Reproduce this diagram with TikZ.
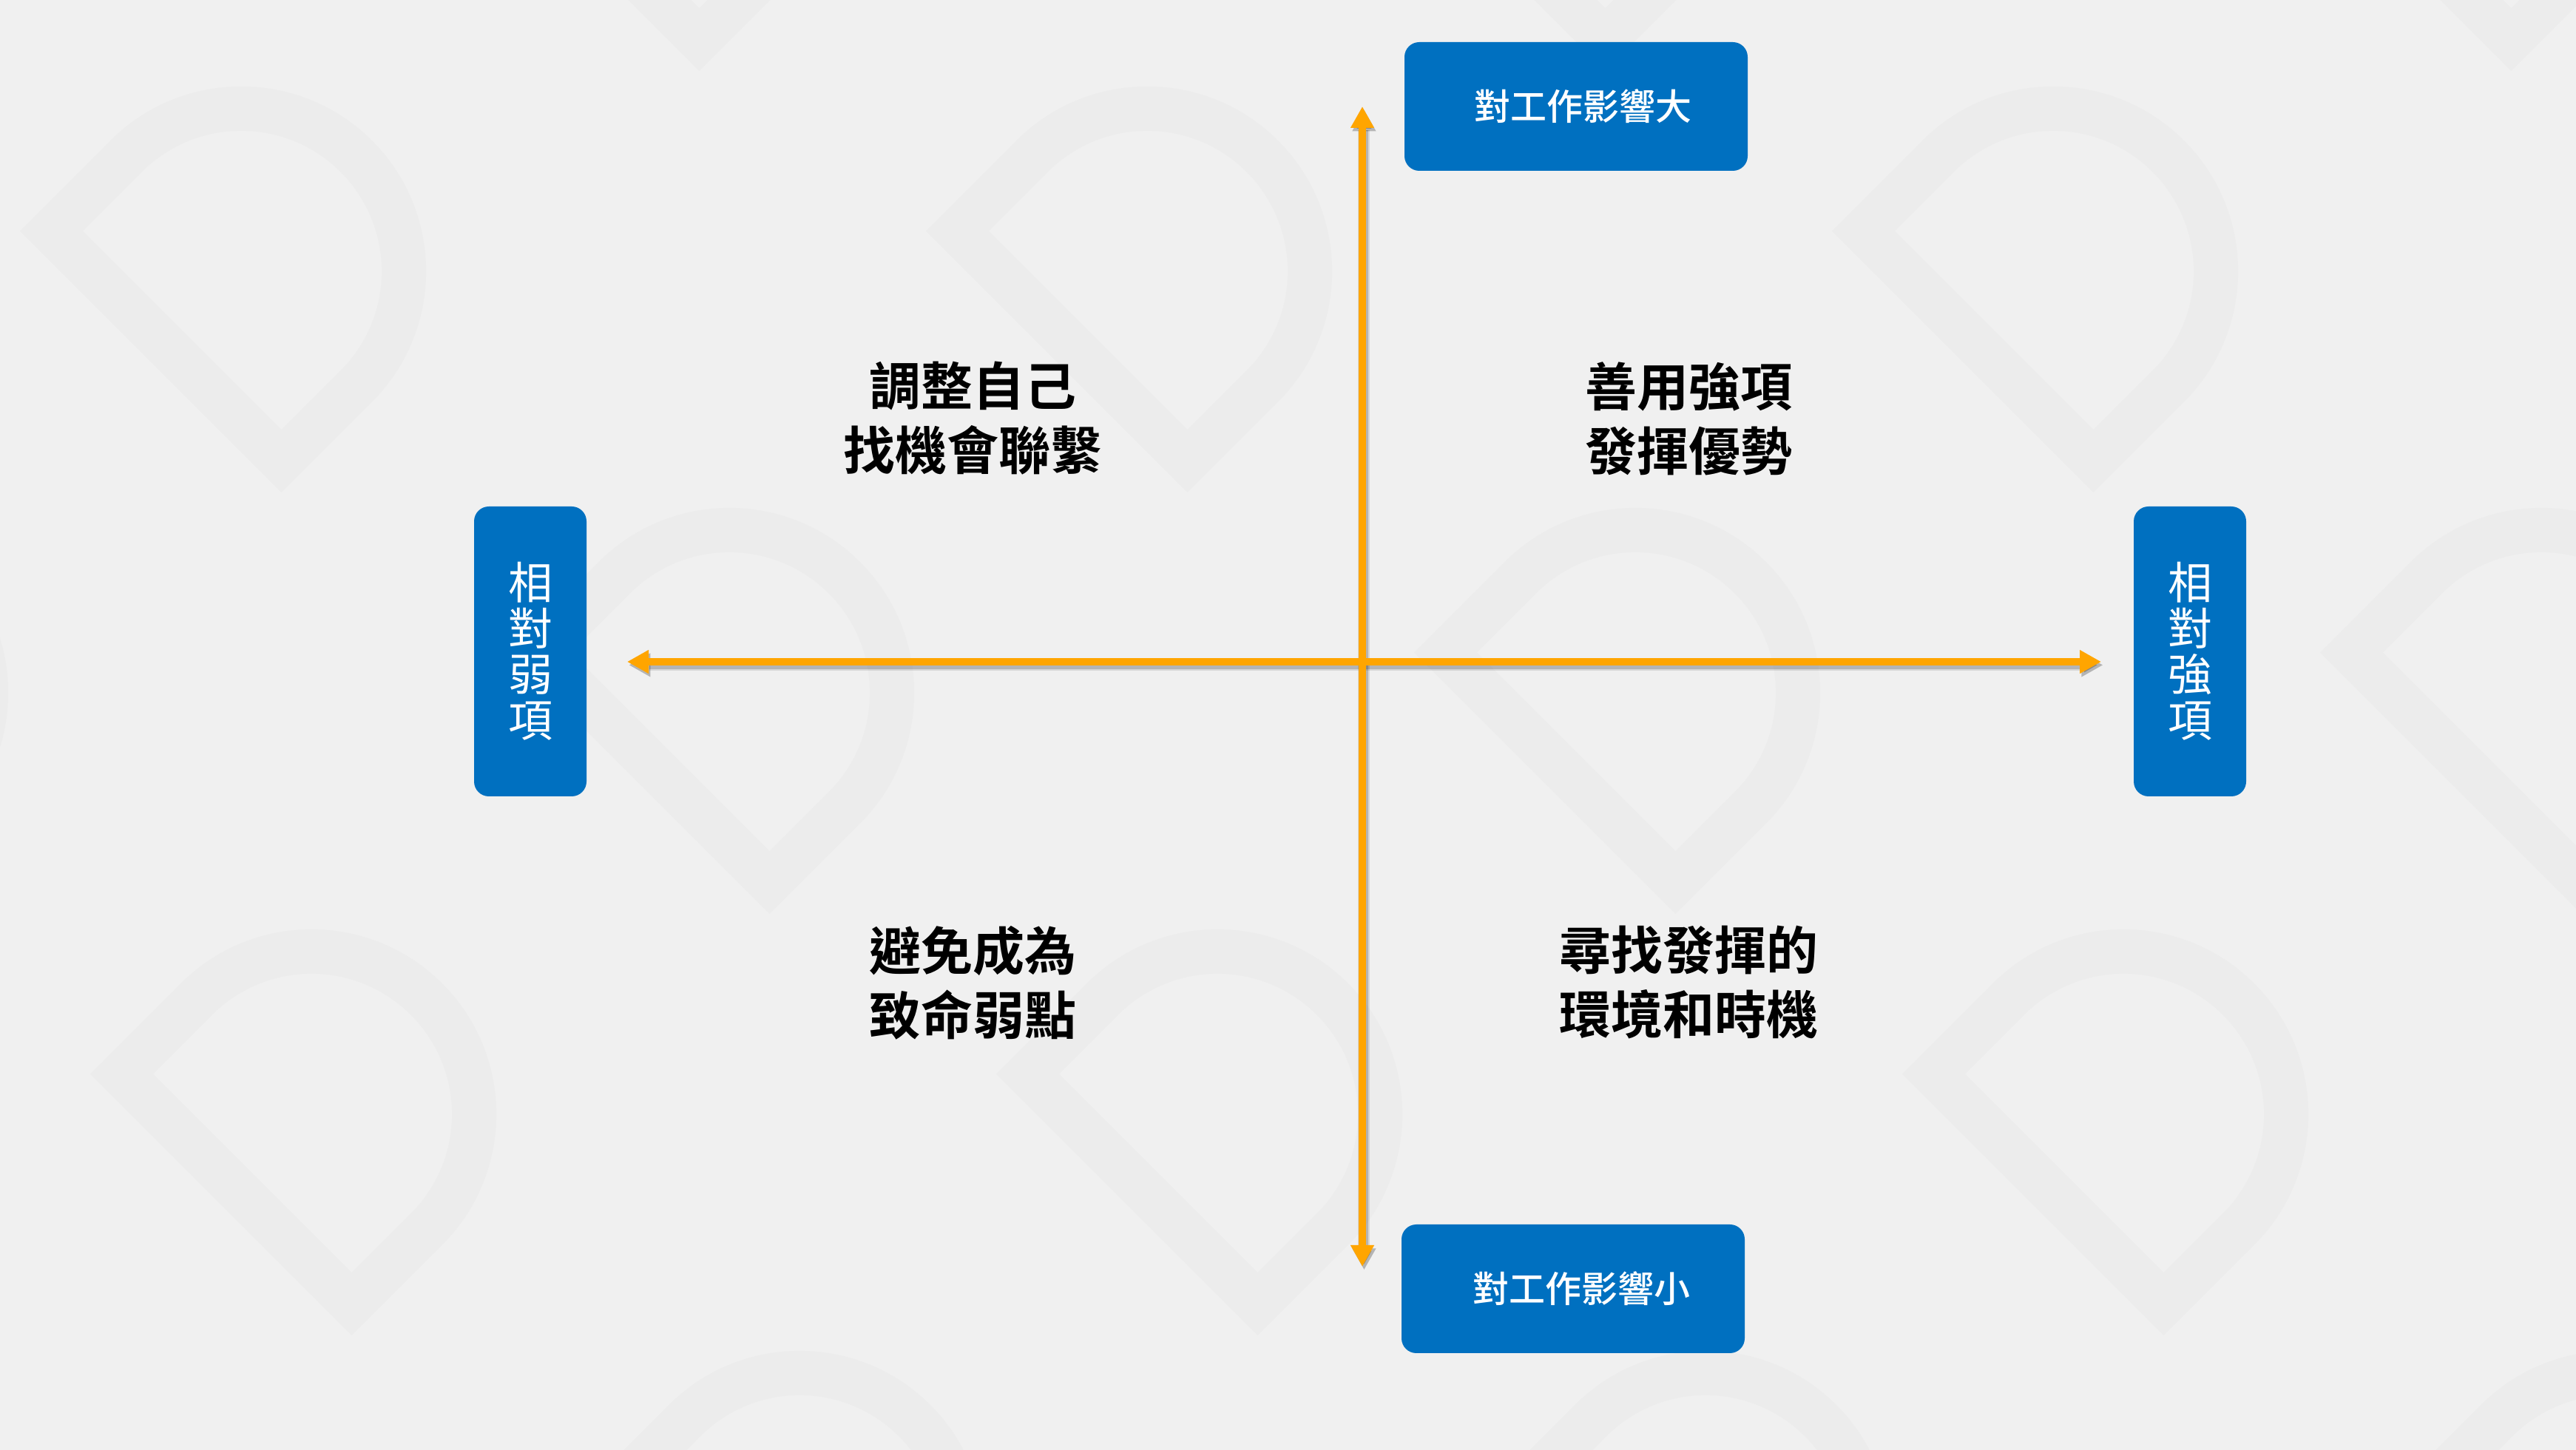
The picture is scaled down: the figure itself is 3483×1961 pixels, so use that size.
\documentclass[tikz,border=0pt]{standalone}
\usepackage{fontspec}
\usetikzlibrary{arrows.meta}
\newfontfamily\cjk{Noto Sans CJK TC}[BoldFont={Noto Sans CJK TC Bold}]
\newfontfamily\cjkmed{Noto Sans CJK TC Medium}
\definecolor{bggrey}{HTML}{F0F0F0}
\definecolor{markgrey}{HTML}{ECECEC}
\definecolor{boxblue}{HTML}{0070C0}
\definecolor{axisorange}{HTML}{FFA500}
\tikzset{
  wmark/.style={draw=markgrey, line width=15pt, line join=miter},
  dmark/.pic={\path[wmark] (-181,-220) -- (-181,220) -- (-38,220) arc[start angle=90, end angle=-90, radius=220] -- cycle;},
  hbox/.style={fill=boxblue, rounded corners=5pt, text=white, inner sep=0pt,
    minimum width=116pt, minimum height=43.5pt, font=\cjkmed\fontsize{12.25pt}{14pt}\selectfont},
  vbox/.style={fill=boxblue, rounded corners=5pt, text=white, inner sep=0pt, align=center,
    minimum width=38pt, minimum height=98pt, font=\cjk\fontsize{15pt}{15.5pt}\selectfont},
  quad/.style={align=center, font=\cjk\bfseries\fontsize{17.5pt}{21.75pt}\selectfont},
  tips/.style={{Triangle[length=7.25pt,width=7.5pt]}-{Triangle[length=7.25pt,width=7.5pt]}},
  axis/.style={tips, draw=axisorange, line width=2.5pt},
  axisshadow/.style={tips, draw=black, draw opacity=#1, fill opacity=#1,
    transform canvas={xshift=0.6pt,yshift=-1.1pt}}
}
\begin{document}
\begin{tikzpicture}[x=0.25pt,y=0.25pt]
  \useasboundingbox (0,0) rectangle (3483,1961);
  \clip (0,0) rectangle (3483,1961);
  \fill[bggrey] (0,0) rectangle (3483,1961);
  \foreach \j in {-1,...,3}
    \foreach \i in {-1,...,3}
      \pic[rotate=45] at ({353+660*\j+1225*\i},{1621-570*\j}) {dmark};

  \node[hbox] (big) at (2131,1817) {\hspace*{4.5pt}對工作影響大};
  \node[hbox] (small) at (2127,218) {\hspace*{5.5pt}對工作影響小};
  \node[vbox] (weak) at (717,1080) {相\\對\\弱\\項};
  \node[vbox] (strong) at (2961,1080) {相\\對\\強\\項};

  \node[quad] (adjust) at (1315,1395) {調整自己\\找機會聯繫};
  \node[quad] (use) at (2283,1395) {善用強項\\發揮優勢};
  \node[quad] (avoid) at (1315,632) {避免成為\\致命弱點};
  \node[quad] (seek) at (2283,632) {尋找發揮的\\環境和時機};

  \coordinate (up) at (1842,1817);
  \coordinate (down) at (1842,248);
  \coordinate (lft) at (848,1066);
  \coordinate (rgt) at (2841,1066);

  \draw[axisshadow=0.10, line width=4pt] (lft) -- (rgt);
  \draw[axisshadow=0.16, line width=2.8pt] (lft) -- (rgt);
  \draw[axisshadow=0.10, line width=4pt] (down) -- (up);
  \draw[axisshadow=0.16, line width=2.8pt] (down) -- (up);
  \draw[axis] (lft) -- (rgt);
  \draw[axis] (down) -- (up);
\end{tikzpicture}
\end{document}
